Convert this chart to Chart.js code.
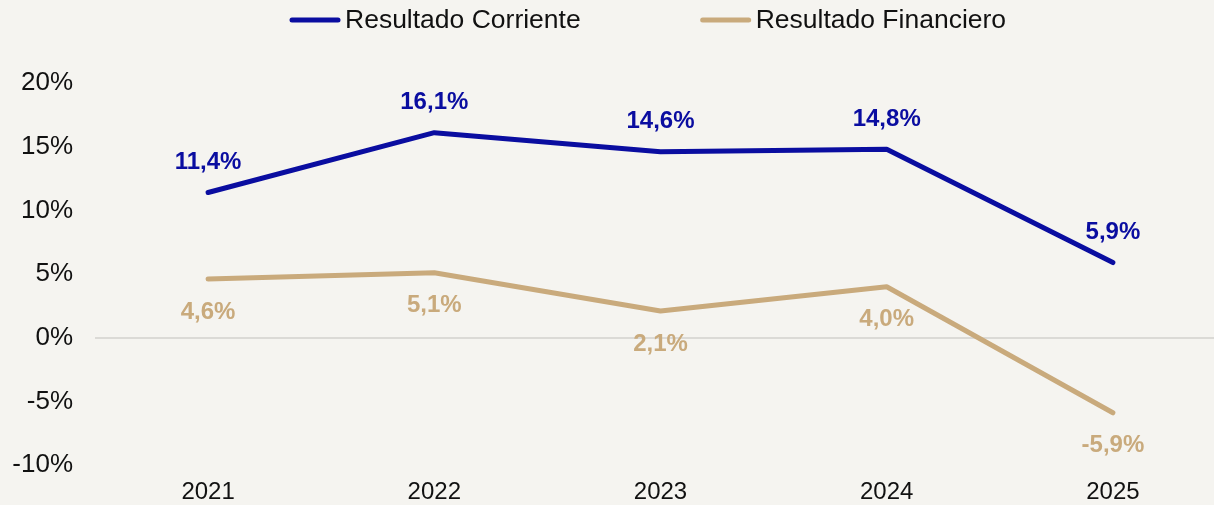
<!DOCTYPE html>
<html>
<head>
<meta charset="utf-8">
<script src="https://cdn.jsdelivr.net/npm/chart.js@4.4.1/dist/chart.umd.min.js"></script>
<style>
  html, body { margin: 0; padding: 0; background: #f5f4f0; overflow: hidden; }
  #wrap { width: 1232px; height: 505px; position: relative; }
</style>
</head>
<body>
<div id="wrap"><canvas id="c"></canvas></div>
<script>
const categories = ['2021', '2022', '2023', '2024', '2025'];
const resultadoCorriente = [11.4, 16.1, 14.6, 14.8, 5.9];
const resultadoFinanciero = [4.6, 5.1, 2.1, 4.0, -5.9];
const seriesNames = ['Resultado Corriente', 'Resultado Financiero'];
const yTicks = [-10, -5, 0, 5, 10, 15, 20];

const BLUE = '#0a0da0';
const TAN = '#c9aa7c';
const FONT = "'Liberation Sans', Arial, sans-serif";

const fmt = v => v.toFixed(1).replace('.', ',') + '%';

const labelPlugin = {
  id: 'valueLabels',
  afterDatasetsDraw(chart) {
    const ctx = chart.ctx;
    ctx.save();
    ctx.font = 'bold 24px ' + FONT;
    ctx.textAlign = 'center';
    ctx.textBaseline = 'middle';
    chart.data.datasets.forEach((ds, i) => {
      const meta = chart.getDatasetMeta(i);
      meta.data.forEach((pt, j) => {
        ctx.fillStyle = ds.borderColor;
        const dy = i === 0 ? -30 : 33;
        ctx.fillText(fmt(ds.data[j]), pt.x, pt.y + dy);
      });
    });
    ctx.restore();
  }
};

const legendPlugin = {
  id: 'customLegend',
  afterDraw(chart) {
    const ctx = chart.ctx;
    ctx.save();
    ctx.font = '26.5px ' + FONT;
    ctx.textBaseline = 'middle';
    const y = 20;
    let x = 292;
    chart.data.datasets.forEach((ds, i) => {
      ctx.strokeStyle = ds.borderColor;
      ctx.lineWidth = 5;
      ctx.lineCap = 'round';
      ctx.beginPath();
      ctx.moveTo(x, y);
      ctx.lineTo(x + 46, y);
      ctx.stroke();
      ctx.fillStyle = '#111111';
      ctx.textAlign = 'left';
      const tx = x + 53;
      ctx.fillText(ds.label, tx, y + 1);
      x = tx + ctx.measureText(ds.label).width + 122;
    });
    ctx.restore();
  }
};

new Chart(document.getElementById('c'), {
  type: 'line',
  data: {
    labels: categories,
    datasets: [
      {
        label: seriesNames[0],
        data: resultadoCorriente,
        borderColor: BLUE,
        backgroundColor: BLUE,
        borderWidth: 5,
        borderCapStyle: 'round',
        borderJoinStyle: 'round',
        pointRadius: 0,
        tension: 0
      },
      {
        label: seriesNames[1],
        data: resultadoFinanciero,
        borderColor: TAN,
        backgroundColor: TAN,
        borderWidth: 5,
        borderCapStyle: 'round',
        borderJoinStyle: 'round',
        pointRadius: 0,
        tension: 0
      }
    ]
  },
  options: {
    responsive: true,
    maintainAspectRatio: false,
    animation: false,
    layout: { padding: { top: 83, right: 6, left: 0, bottom: 0 } },
    plugins: {
      legend: { display: false },
      tooltip: { enabled: false }
    },
    scales: {
      x: {
        type: 'category',
        offset: true,
        afterFit(scale) { scale.height = 40; },
        grid: { display: false, drawTicks: false },
        border: { display: false },
        ticks: {
          color: '#111111',
          font: { family: FONT, size: 24 },
          padding: 13,
          maxRotation: 0
        }
      },
      y: {
        min: -10,
        max: 20,
        afterBuildTicks(scale) {
          scale.ticks = yTicks.map(v => ({ value: v }));
        },
        afterFit(scale) { scale.width = 95; },
        grid: {
          drawTicks: false,
          lineWidth: 2,
          color: c => (c.tick && c.tick.value === 0) ? '#dbdad6' : 'rgba(0,0,0,0)'
        },
        border: { display: false },
        ticks: {
          color: '#111111',
          font: { family: FONT, size: 26 },
          padding: 22,
          callback: v => v + '%'
        }
      }
    }
  },
  plugins: [labelPlugin, legendPlugin]
});
</script>
</body>
</html>
